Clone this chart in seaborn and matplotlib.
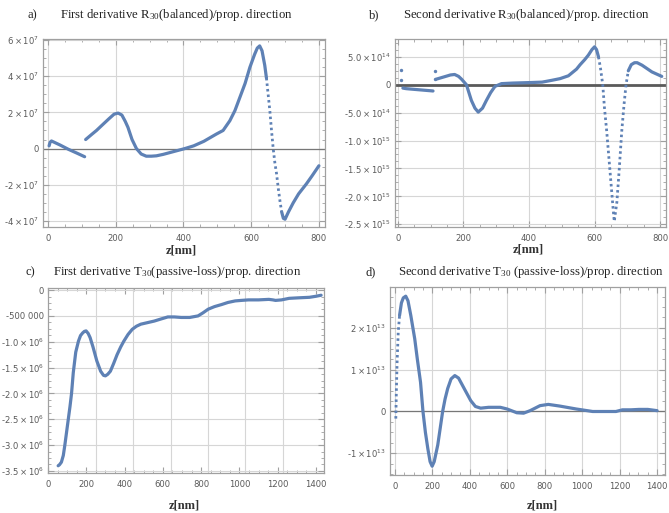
import matplotlib
matplotlib.use("Agg")
import matplotlib.pyplot as plt
from matplotlib.ticker import AutoMinorLocator
import seaborn as sns

# ---------------- data ----------------
# a) first derivative R30 (balanced), units 1e7
a_seg1_z = [3, 6, 10, 35, 60, 85, 108]
a_seg1_v = [0.15, 0.35, 0.42, 0.2, -0.04, -0.25, -0.45]
a_seg2_z = [111, 130, 143, 160, 180, 195, 207, 218, 228, 236, 248, 261, 275, 290, 305,
            320, 340, 360, 380, 404, 430, 460, 497, 517, 537, 552, 566, 582, 596, 610,
            618, 625, 632, 640, 645]
a_seg2_v = [0.5, 0.8, 1.0, 1.3, 1.65, 1.9, 1.96, 1.85, 1.5, 1.17, 0.5, 0.0, -0.3, -0.42, -0.42,
            -0.4, -0.32, -0.22, -0.12, 0.0, 0.15, 0.4, 0.8, 1.0, 1.54, 2.1, 2.8, 3.6, 4.48, 5.2,
            5.55, 5.67, 5.4, 4.6, 3.9]
a_seg3_z = [645, 650, 655, 660, 665, 670, 675, 680, 685, 690]  # sparse (dotted) part
a_seg3_v = [3.9, 3.0, 2.1, 1.0, 0.0, -0.8, -1.4, -2.2, -2.9, -3.5]
a_seg4_z = [690, 695, 700, 710, 724, 740, 763, 780, 800]
a_seg4_v = [-3.5, -3.85, -3.9, -3.5, -3.0, -2.5, -1.95, -1.5, -0.95]
a_scale = 1e7

# b) second derivative R30 (balanced), units 1e14
b_dots_z = [10, 10, 112, 113]
b_dots_v = [2.7, 0.8, 2.4, 1.0]
b_seg1_z = [15, 25, 40, 60, 80, 100, 107]
b_seg1_v = [-0.6, -0.7, -0.78, -0.88, -0.98, -1.08, -1.12]
b_seg2_z = [117, 140, 160, 173, 185, 194, 209, 224, 235, 245, 258, 270, 283, 296, 316,
            350, 408, 440, 470, 495, 520, 545, 556, 570, 581, 592, 600, 606, 612]
b_seg2_v = [1.0, 1.4, 1.75, 1.84, 1.5, 1.0, 0.0, -2.8, -4.2, -4.9, -4.2, -2.8, -1.4, -0.3, 0.2,
            0.3, 0.4, 0.47, 0.8, 1.1, 1.6, 2.8, 3.6, 4.5, 5.3, 6.3, 6.8, 6.3, 5.0]
b_seg3_z = [612, 618, 625, 630, 637, 647, 655, 660, 668, 675, 683, 690, 696, 703]  # dotted
b_seg3_v = [5.0, 3.0, 0.0, -4.0, -8.3, -15.4, -21.1, -24.5, -21.1, -15.4, -8.3, -3.5, 0.0, 2.5]
b_seg4_z = [703, 712, 722, 730, 745, 760, 775, 790, 805]
b_seg4_v = [2.5, 3.6, 3.95, 3.95, 3.5, 2.9, 2.3, 1.9, 1.5]
b_scale = 1e14

# c) first derivative T30 (passive-loss), units 1e6
c_z = [53, 60, 70, 80, 88, 97, 106, 115, 123, 132, 145, 159, 170, 181, 190, 199, 210, 220,
       235, 255, 275, 290, 300, 312, 326, 343, 361, 380, 396, 418, 440, 462, 485, 520, 555,
       590, 626, 660, 696, 740, 784, 810, 837, 870, 907, 940, 978, 1010, 1048, 1100, 1154,
       1175, 1189, 1220, 1260, 1310, 1366, 1400, 1427]
c_v = [-3.4, -3.38, -3.33, -3.2, -3.0, -2.75, -2.5, -2.25, -2.0, -1.6, -1.2, -0.99, -0.88, -0.83,
       -0.8, -0.79, -0.84, -0.92, -1.1, -1.37, -1.57, -1.65, -1.66, -1.63, -1.57, -1.42, -1.25,
       -1.1, -0.99, -0.86, -0.76, -0.7, -0.66, -0.63, -0.6, -0.56, -0.52, -0.52, -0.53, -0.53,
       -0.5, -0.44, -0.37, -0.32, -0.28, -0.24, -0.21, -0.2, -0.19, -0.19, -0.18, -0.19, -0.2,
       -0.19, -0.16, -0.15, -0.14, -0.12, -0.1]
c_scale = 1e6
c_grid_z = [251, 446, 641, 836, 1031, 1226]

# d) second derivative T30 (passive-loss), units 1e13
d_seg1_z = [5, 8, 12, 18, 25]  # dotted start
d_seg1_v = [-0.17, 0.5, 1.2, 1.9, 2.3]
d_seg2_z = [25, 35, 45, 58, 70, 85, 106, 120, 137, 150, 163, 176, 188, 199, 210,
            229, 242, 255, 268, 282, 300, 320, 340, 370, 405, 430, 458, 500, 563, 599, 651, 687,
            722, 775, 819, 880, 968, 1056, 1120, 1180, 1215, 1260, 1303, 1350, 1400]
d_seg2_v = [2.3, 2.6, 2.72, 2.76, 2.65, 2.3, 1.74, 1.25, 0.7, 0.0, -0.5, -0.89,
            -1.2, -1.31, -1.2, -0.8, -0.4, 0.0, 0.3, 0.55, 0.78, 0.86, 0.8, 0.55, 0.26, 0.12, 0.08,
            0.1, 0.1, 0.06, -0.03, -0.04, 0.02, 0.14, 0.17, 0.13, 0.06, 0.0, 0.0, 0.0, 0.04, 0.04,
            0.05, 0.05, 0.02]
d_scale = 1e13

# tick values and labels
a_xticks = [0, 200, 400, 600, 800]
a_yticks = [6e7, 4e7, 2e7, 0, -2e7, -4e7]
a_ylabels = [r"$6\times10^{7}$", r"$4\times10^{7}$", r"$2\times10^{7}$", "0",
             r"-$2\times10^{7}$", r"-$4\times10^{7}$"]
b_xticks = [0, 200, 400, 600, 800]
b_yticks = [5e14, 0, -5e14, -1e15, -1.5e15, -2e15, -2.5e15]
b_ylabels = [r"$5.0\times10^{14}$", "0", r"-$5.0\times10^{14}$", r"-$1.0\times10^{15}$",
             r"-$1.5\times10^{15}$", r"-$2.0\times10^{15}$", r"-$2.5\times10^{15}$"]
c_xticks = [0, 200, 400, 600, 800, 1000, 1200, 1400]
c_yticks = [0, -5e5, -1e6, -1.5e6, -2e6, -2.5e6, -3e6, -3.5e6]
c_ylabels = ["0", "-500 000", r"-$1.0\times10^{6}$", r"-$1.5\times10^{6}$", r"-$2.0\times10^{6}$",
             r"-$2.5\times10^{6}$", r"-$3.0\times10^{6}$", r"-$3.5\times10^{6}$"]
d_xticks = [0, 200, 400, 600, 800, 1000, 1200, 1400]
d_yticks = [2e13, 1e13, 0, -1e13]
d_ylabels = [r"$2\times10^{13}$", r"$1\times10^{13}$", "0", r"-$1\times10^{13}$"]

titles = [
    ("a)", r"First derivative $\mathregular{R_{30}}$(balanced)/prop. direction"),
    ("b)", r"Second derivative $\mathregular{R_{30}}$(balanced)/prop. direction"),
    ("c)", r"First derivative $\mathregular{T_{30}}$(passive-loss)/prop. direction"),
    ("d)", r"Second derivative $\mathregular{T_{30}}$ (passive-loss)/prop. direction"),
]
xlabel_text = "z[nm]"

# ---------------- style ----------------
sns.set_theme(style="white")
plt.rcParams['font.family'] = ['DejaVu Sans']
plt.rcParams['mathtext.fontset'] = 'dejavusans'

BLUE = '#5E81B5'
FRAME = '#a0a0a0'
GRID = '#d6d6d6'
TICKC = '#5a5a5a'
SERIF = 'Liberation Serif'

W, H = 669, 513
fig = plt.figure(figsize=(W / 100, H / 100), dpi=100)
fig.patch.set_facecolor('white')


def box(l, r, t, b):
    return [l / W, 1 - b / H, (r - l) / W, (b - t) / H]


def style(ax, xlim, ylim, xt, yt, ytl, xgrid=True):
    ax.set_facecolor('white')
    ax.set_xlim(xlim)
    ax.set_ylim(ylim)
    ax.set_xticks(xt, labels=[str(v) for v in xt])
    ax.set_yticks(yt, labels=ytl)
    ax.xaxis.set_minor_locator(AutoMinorLocator(4))
    ax.yaxis.set_minor_locator(AutoMinorLocator(4))
    ax.tick_params(which='both', direction='in', top=True, right=True, bottom=True, left=True,
                   colors=FRAME, labelcolor=TICKC, labelsize=6.1)
    ax.tick_params(which='major', length=4, width=0.8)
    ax.tick_params(which='minor', length=2, width=0.6)
    ax.tick_params(axis='x', pad=5)
    ax.tick_params(axis='y', pad=3)
    for s in ax.spines.values():
        s.set_visible(True)
        s.set_color(FRAME)
        s.set_linewidth(0.9)
    ax.grid(False)
    ax.yaxis.grid(True, which='major', color=GRID, lw=0.8)
    if xgrid:
        ax.xaxis.grid(True, which='major', color=GRID, lw=0.8)
    ax.set_axisbelow(True)
    ax.set_xlabel("")
    ax.set_ylabel("")


def scaled(vals, k):
    return [v * k for v in vals]


LW = 2.3
DOT = (0, (0.9, 1.1))


def curve(ax, z, v, k, dotted=False):
    sns.lineplot(x=z, y=scaled(v, k), ax=ax, color=BLUE, lw=(2.0 if dotted else LW),
                 linestyle=(DOT if dotted else '-'), sort=False, estimator=None)


# a
axa = fig.add_axes(box(43, 325, 39, 227))
style(axa, (-15, 818), (-4.33e7, 6.05e7), a_xticks, a_yticks, a_ylabels)
axa.axhline(0, color='#777777', lw=0.9, zorder=1.5)
curve(axa, a_seg1_z, a_seg1_v, a_scale)
curve(axa, a_seg2_z, a_seg2_v, a_scale)
curve(axa, a_seg3_z, a_seg3_v, a_scale, dotted=True)
curve(axa, a_seg4_z, a_seg4_v, a_scale)

# b
axb = fig.add_axes(box(395, 666, 39, 227))
style(axb, (-9, 818), (-2.55e15, 8.2e14), b_xticks, b_yticks, b_ylabels)
axb.axhline(0, color='#5a5a5a', lw=2.0, zorder=1.5)
curve(axb, b_seg1_z, b_seg1_v, b_scale)
curve(axb, b_seg2_z, b_seg2_v, b_scale)
curve(axb, b_seg3_z, b_seg3_v, b_scale, dotted=True)
curve(axb, b_seg4_z, b_seg4_v, b_scale)
sns.scatterplot(x=b_dots_z, y=scaled(b_dots_v, b_scale), ax=axb, color=BLUE, s=6, linewidth=0)

# c
axc = fig.add_axes(box(48, 324, 288, 473))
style(axc, (0, 1442), (-3.54e6, 0.04e6), c_xticks, c_yticks, c_ylabels, xgrid=False)
for g in c_grid_z:
    axc.axvline(g, color=GRID, lw=0.8, zorder=0.5)
curve(axc, c_z, c_v, c_scale)

# d
axd = fig.add_axes(box(390, 665, 287, 475))
style(axd, (-26, 1442), (-1.52e13, 2.98e13), d_xticks, d_yticks, d_ylabels)
axd.axhline(0, color='#777777', lw=0.9, zorder=1.5)
curve(axd, d_seg1_z, d_seg1_v, d_scale, dotted=True)
curve(axd, d_seg2_z, d_seg2_v, d_scale)

# titles
title_pos = [((32, 15), (60, 15)), ((374, 15), (403, 15)), ((30, 272), (53, 272)), ((371, 272), (398, 272))]
for (lab, txt), ((lx, ly), (tx, ty)) in zip(titles, title_pos):
    fig.text(lx / W, 1 - ly / H, lab, family=SERIF, fontsize=9, color='#222222', ha='center', va='center')
    fig.text(tx / W, 1 - ty / H, txt, family=SERIF, fontsize=9.2, color='#222222', ha='left', va='center')

# x labels
for (x, y) in [(181, 251), (528, 249), (184, 506), (542, 506)]:
    fig.text(x / W, 1 - y / H, xlabel_text, family=SERIF, fontsize=9, fontweight='bold',
             color='#333333', ha='center', va='center')

fig.savefig("out.png", dpi=100, facecolor='white')
